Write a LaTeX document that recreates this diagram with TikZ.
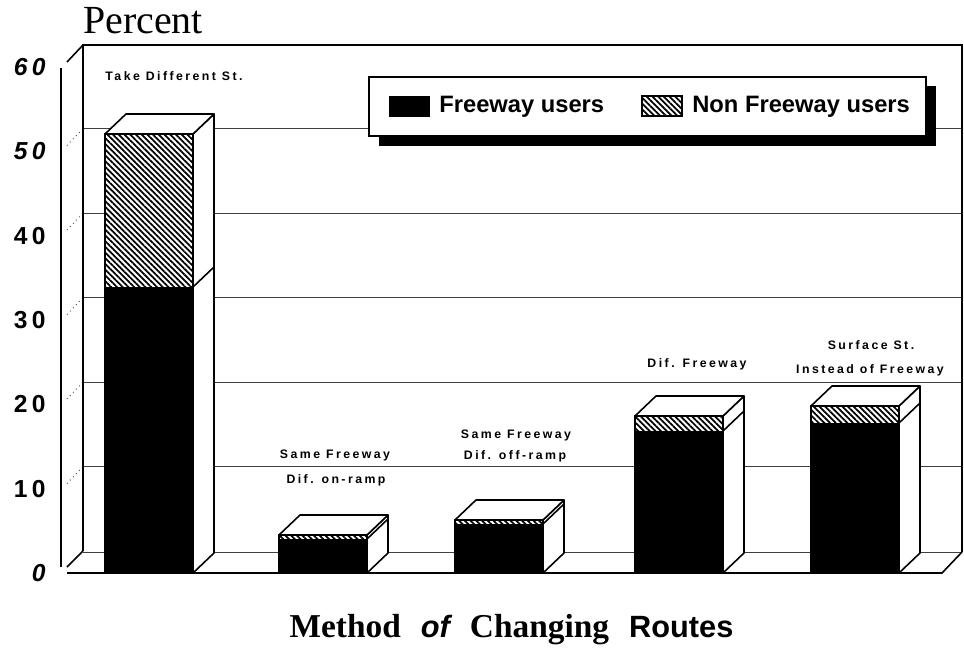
\documentclass[tikz,border=0pt]{standalone}
\usepackage{fontspec}
\setmainfont{Liberation Serif}
\setsansfont{Liberation Sans}
\newfontfamily\barfont[LetterSpace=20]{Liberation Sans}
\newfontfamily\tickfont[LetterSpace=18]{Liberation Sans}
\usetikzlibrary{patterns.meta}

\def\barWidth{88}
\def\gridStep{8.45}
\colorlet{wall edge}{black}
\colorlet{grid line}{black!75}
\tikzset{
  wall/.style={draw=wall edge, line width=0.9pt},
  gridline/.style={draw=grid line, line width=0.5pt},
  sidegrid/.style={draw=grid line, line width=0.5pt, dotted},
  freeway/.style={fill=black},
  nonfreeway/.style={pattern={Lines[angle=135, distance=2.3pt, line width=1pt]}},
  barside/.style={fill=white, draw=black, line width=0.9pt, line join=round}
  }
\tikzstyle{barlabel} = [inner sep=0pt, font=\barfont\bfseries\fontsize{7}{8}\selectfont]
\tikzstyle{ticklabel} = [inner sep=0pt, anchor=east, font=\tickfont\bfseries\fontsize{14}{16}\selectfont]
\tikzstyle{keytext} = [inner sep=0pt, anchor=west, font=\sffamily\bfseries\fontsize{13.5}{16}\selectfont]

\begin{document}
\begin{tikzpicture}[x=0.2mm, y=-0.2mm]
  \useasboundingbox (0,0) rectangle (964,656);

  % back wall with its grid, and the side wall ticks
  \foreach \v in {10,20,...,50} {
    \draw[gridline] (83,551-\gridStep*\v) -- (962,551-\gridStep*\v);
    \draw[sidegrid] (67,568-\gridStep*\v) -- (83,551-\gridStep*\v);
  }
  \draw[wall] (83,551) -- (83,45) -- (962,45) -- (962,552);
  \draw[wall] (67,62) -- (83,45);
  \draw[wall] (61,68) -- (61,567);

  % floor
  \draw[gridline] (83,552) -- (962,552);
  \draw[wall] (67,567) -- (83,551);
  \draw[wall] (67,573) -- (942,573) -- (962,552);

  \foreach \v/\sh in {0/\itshape, 10/\upshape, 20/\upshape, 30/\upshape, 40/\upshape, 50/\itshape, 60/\itshape} {
    \node[ticklabel] (tick\v) at (46,573-8.43*\v) {\sh\v};
  }

  % bars: left edge / top of freeway part / top of bar / name
  \foreach \x/\fwtop/\bartop/\name in {105/287/134/takest, 279/539/535/onramp, 455/524/520/offramp, 635/431/416/otherfwy, 811/423/406/surfacest} {
    \filldraw[barside] (\x+\barWidth,573) -- ++(21,-20) -- (\x+\barWidth+21,\bartop-20) -- (\x+\barWidth,\bartop) -- cycle;
    \filldraw[barside] (\x,\bartop) -- ++(21,-20) -- (\x+\barWidth+21,\bartop-20) -- (\x+\barWidth,\bartop) -- cycle;
    \fill[freeway] (\x,573) rectangle (\x+\barWidth,\fwtop);
    \fill[white] (\x,\fwtop) rectangle (\x+\barWidth,\bartop);
    \fill[nonfreeway] (\x,\fwtop) rectangle (\x+\barWidth,\bartop);
    \draw[wall] (\x,573) rectangle (\x+\barWidth,\bartop);
    \draw[wall] (\x+\barWidth,\fwtop) -- ++(21,-20);
    \coordinate (\name) at (\x+44,\bartop);
  }

  \node[barlabel] (takelabel) at (174,76) {Take Different St.};
  \node[barlabel] (onramplabel) at (335,455) {Same Freeway};
  \node[barlabel] (onramplabel2) at (336,480) {Dif. on-ramp};
  \node[barlabel] (offramplabel) at (516,435) {Same Freeway};
  \node[barlabel] (offramplabel2) at (515,456) {Dif. off-ramp};
  \node[barlabel] (otherfwylabel) at (697,364) {Dif. Freeway};
  \node[barlabel] (surfacelabel) at (871,345) {Surface St.};
  \node[barlabel] (surfacelabel2) at (870,370) {Instead of Freeway};

  % legend with drop shadow
  \fill (379,86) rectangle (936,146);
  \draw[wall, fill=white] (369,77) rectangle (926,136);
  \fill[freeway] (389,96) rectangle (430,117);
  \draw[nonfreeway, draw=black, line width=0.6pt] (642,96) rectangle (682,116);
  \node[keytext] (freewaykey) at (439,107) {Freeway users};
  \node[keytext] (nonfreewaykey) at (692,107) {Non Freeway users};

  \node[anchor=base west, inner sep=0pt, font=\fontsize{22.7}{26}\selectfont] (percent) at (83,33) {Percent};
  \node[anchor=base, inner sep=0pt] (title) at (511.5,637)
    {{\bfseries\fontsize{19}{22}\selectfont Method}\hspace{4mm}{\sffamily\bfseries\itshape\fontsize{17.5}{20}\selectfont of}\hspace{4mm}{\bfseries\fontsize{19}{22}\selectfont Changing}\hspace{4mm}{\sffamily\bfseries\fontsize{17.5}{20}\selectfont Routes}};
\end{tikzpicture}
\end{document}
